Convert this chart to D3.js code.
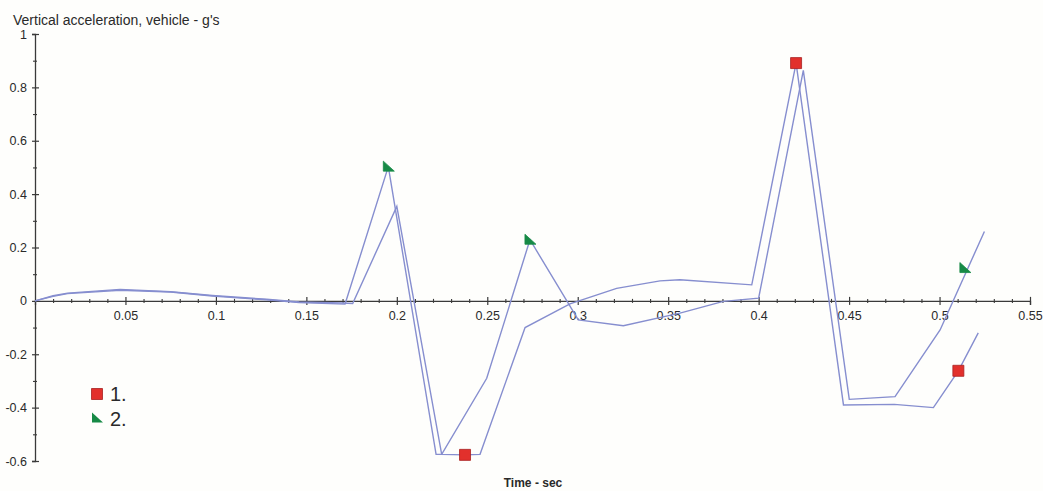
<!DOCTYPE html>
<html>
<head>
<meta charset="utf-8">
<script src="https://cdn.jsdelivr.net/npm/d3@7/dist/d3.min.js"></script>
<style>
  html, body { margin: 0; padding: 0; background: #fefefc; }
  svg { display: block; }
  text { font-family: "Liberation Sans", Arial, sans-serif; fill: #2a2a2a; }
</style>
</head>
<body>
<svg id="chart" width="1043" height="491"></svg>
<script>
// Run 1: time (s) and vertical acceleration (g)
const time1 = [0, 0.010, 0.018, 0.047, 0.075, 0.098, 0.128, 0.146, 0.170, 0.1756, 0.200, 0.2248, 0.2377, 0.246, 0.2709, 0.2957, 0.3215, 0.3455, 0.3565, 0.3962, 0.4207, 0.4469, 0.475, 0.4966, 0.5104, 0.5214];
const accel1 = [0, 0.019, 0.029, 0.043, 0.034, 0.020, 0.006, -0.004, -0.008, -0.010, 0.354, -0.575, -0.577, -0.575, -0.100, -0.011, 0.047, 0.075, 0.079, 0.060, 0.891, -0.390, -0.388, -0.400, -0.262, -0.120];

// Run 2: time (s) and vertical acceleration (g)
const time2 = [0, 0.010, 0.018, 0.047, 0.075, 0.098, 0.128, 0.146, 0.1714, 0.1953, 0.2217, 0.2248, 0.2497, 0.2736, 0.3003, 0.3252, 0.3565, 0.3805, 0.400, 0.4247, 0.4501, 0.4754, 0.5003, 0.5248];
const accel2 = [0, 0.017, 0.027, 0.040, 0.033, 0.018, 0.004, -0.006, -0.012, 0.503, -0.575, -0.575, -0.290, 0.229, -0.071, -0.093, -0.046, -0.002, 0.010, 0.864, -0.369, -0.359, -0.109, 0.260];

// Point symbols placed on each run
const markTime1 = [0.2377, 0.4207, 0.5104];
const markAccel1 = [-0.577, 0.891, -0.262];
const markTime2 = [0.1953, 0.2736, 0.5140];
const markAccel2 = [0.503, 0.229, 0.123];

// Axis ticks
const xMajor = [0.05, 0.1, 0.15, 0.2, 0.25, 0.3, 0.35, 0.4, 0.45, 0.5, 0.55];
const yMajor = [-0.6, -0.4, -0.2, 0, 0.2, 0.4, 0.6, 0.8, 1];
const legendLabels = ["1.", "2."];

const svg = d3.select("#chart");
const x = d3.scaleLinear().domain([0, 0.55]).range([35, 1030]);
const y = d3.scaleLinear().domain([-0.6, 1]).range([461, 34]);

const axisColor = "#3a3a3a";
const lineColor = "#868ecf";
const fmt = d => String(+d.toFixed(2));

// minor ticks every 0.01 s and 0.1 g
const xMinor = d3.range(1, 56).map(i => i / 100).filter(v => !xMajor.some(m => Math.abs(m - v) < 1e-9));
const yMinor = d3.range(-6, 11).map(i => i / 10).filter(v => !yMajor.some(m => Math.abs(m - v) < 1e-9));

// x axis along y = 0
const gx = svg.append("g").attr("transform", `translate(0,${y(0)})`)
  .call(d3.axisBottom(x).tickValues(xMajor).tickFormat(fmt).tickSize(4).tickPadding(6));
gx.select(".domain").attr("stroke", axisColor).attr("stroke-width", 1.3);
gx.selectAll(".tick line").attr("y1", -4).attr("y2", 4).attr("stroke", axisColor).attr("stroke-width", 1.2);
gx.selectAll(".tick text").attr("font-size", 12.5).attr("fill", "#333")
  .style("font-family", "'Liberation Sans', Arial, sans-serif");

const gxm = svg.append("g").attr("transform", `translate(0,${y(0)})`)
  .call(d3.axisBottom(x).tickValues(xMinor).tickFormat("").tickSize(2));
gxm.select(".domain").remove();
gxm.selectAll(".tick line").attr("y1", -2).attr("y2", 2).attr("stroke", axisColor).attr("stroke-width", 1.1);

// y axis along x = 0
const gy = svg.append("g").attr("transform", `translate(${x(0)},0)`)
  .call(d3.axisLeft(y).tickValues(yMajor).tickFormat(fmt).tickSize(3).tickPadding(5));
gy.select(".domain").attr("stroke", axisColor).attr("stroke-width", 1.3);
gy.selectAll(".tick line").attr("x1", -3).attr("x2", 4).attr("stroke", axisColor).attr("stroke-width", 1.2);
gy.selectAll(".tick text").attr("font-size", 12.5).attr("fill", "#333")
  .style("font-family", "'Liberation Sans', Arial, sans-serif");

const gym = svg.append("g").attr("transform", `translate(${x(0)},0)`)
  .call(d3.axisLeft(y).tickValues(yMinor).tickFormat("").tickSize(2));
gym.select(".domain").remove();
gym.selectAll(".tick line").attr("x1", -2).attr("x2", 2).attr("stroke", axisColor).attr("stroke-width", 1.1);

// series lines
const line = d3.line().x(d => x(d[0])).y(d => y(d[1]));
[[time1, accel1], [time2, accel2]].forEach(([t, a]) => {
  svg.append("path")
    .datum(t.map((ti, i) => [ti, a[i]]))
    .attr("d", line)
    .attr("fill", "none")
    .attr("stroke", lineColor)
    .attr("stroke-width", 1.4)
    .attr("stroke-linejoin", "miter");
});

// symbols
const squarePath = "M-5.5,-5.5H5.5V5.5H-5.5Z";
const trianglePath = "M-5,-5.5L-5,4.5L6,4.5Z";
function drawMarks(ts, vs, path, fill, stroke) {
  svg.append("g").selectAll("path")
    .data(ts.map((t, i) => [t, vs[i]]))
    .join("path")
    .attr("transform", d => `translate(${x(d[0])},${y(d[1])})`)
    .attr("d", path)
    .attr("fill", fill)
    .attr("stroke", stroke)
    .attr("stroke-width", 0.8);
}
drawMarks(markTime1, markAccel1, squarePath, "#e2302c", "#a82020");
drawMarks(markTime2, markAccel2, trianglePath, "#178a46", "#178a46");

// legend
const legend = svg.append("g");
legend.append("path").attr("transform", "translate(97,394)").attr("d", squarePath)
  .attr("fill", "#e2302c").attr("stroke", "#a82020").attr("stroke-width", 0.8);
legend.append("path").attr("transform", "translate(97,418)").attr("d", trianglePath)
  .attr("fill", "#178a46");
legendLabels.forEach((lab, i) => {
  legend.append("text").attr("x", 110).attr("y", 401 + i * 25)
    .attr("font-size", 20).attr("fill", "#222").text(lab);
});

// titles
svg.append("text").attr("x", 13).attr("y", 25).attr("font-size", 14).attr("fill", "#222")
  .text("Vertical acceleration, vehicle - g's");
svg.append("text").attr("x", 533).attr("y", 487).attr("text-anchor", "middle")
  .attr("font-size", 12).attr("font-weight", "bold").attr("fill", "#222").text("Time - sec");
</script>
</body>
</html>
